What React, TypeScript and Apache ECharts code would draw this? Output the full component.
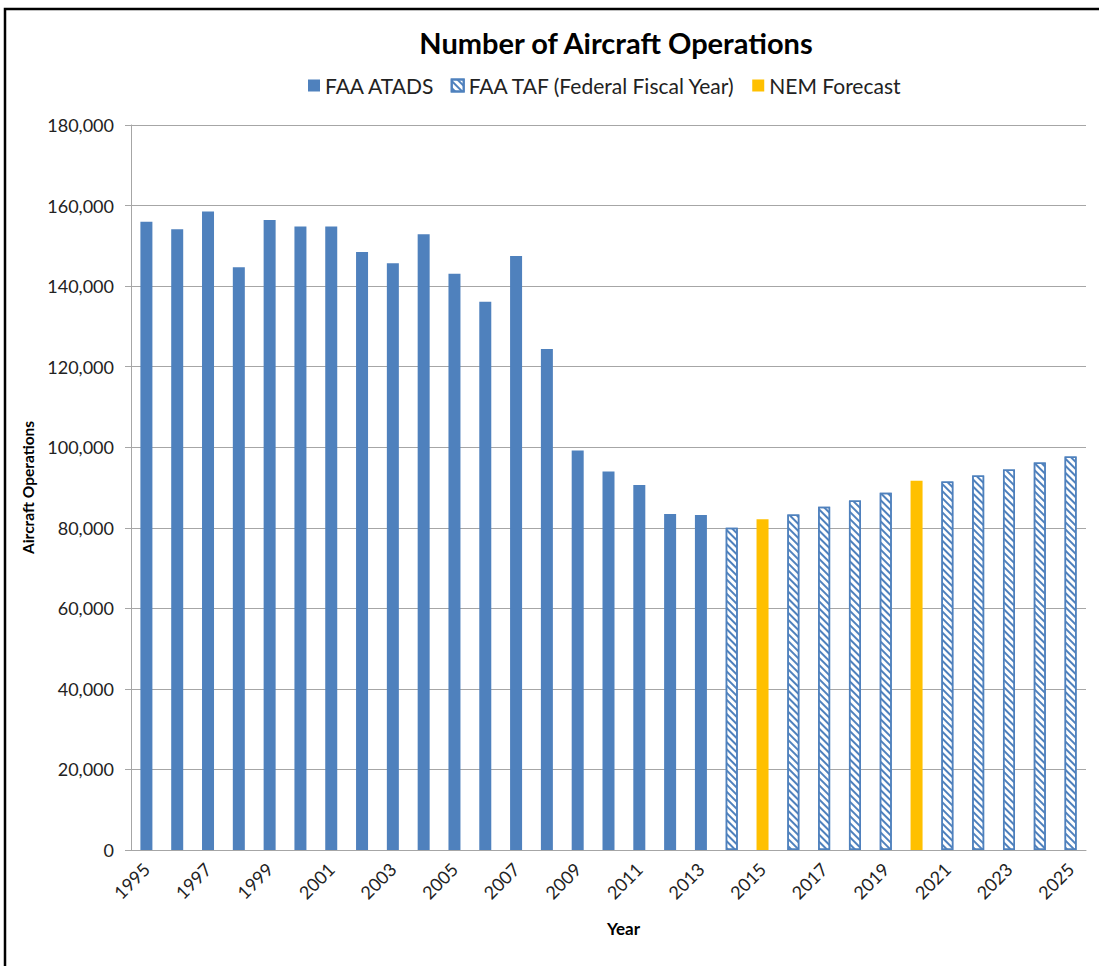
import React, { useEffect, useRef } from "react";
import * as echarts from "echarts";

const years: string[] = [
  "1995","1996","1997","1998","1999","2000","2001","2002","2003","2004",
  "2005","2006","2007","2008","2009","2010","2011","2012","2013","2014",
  "2015","2016","2017","2018","2019","2020","2021","2022","2023","2024","2025",
];

const faaAtads: (number | null)[] = [
  156000, 154100, 158500, 144700, 156400, 154800, 154800, 148500, 145700, 152900,
  143100, 136100, 147500, 124400, 99200, 94000, 90600, 83400, 83200, null,
  null, null, null, null, null, null, null, null, null, null, null,
];

const faaTaf: (number | null)[] = [
  null, null, null, null, null, null, null, null, null, null,
  null, null, null, null, null, null, null, null, null, 80000,
  null, 83300, 85200, 86800, 88700, null, 91500, 93000, 94500, 96200, 97700,
];

const nemForecast: (number | null)[] = [
  null, null, null, null, null, null, null, null, null, null,
  null, null, null, null, null, null, null, null, null, null,
  82100, null, null, null, null, 91700, null, null, null, null, null,
];

const yTicks = { min: 0, max: 180000, interval: 20000 };

const FONT = "Lato, 'Open Sans', sans-serif";
const BLUE = "#4f81bd";
const GOLD = "#ffc000";

export default function App() {
  const ref = useRef<HTMLDivElement>(null);
  useEffect(() => {
    if (!ref.current) return;
    const chart = echarts.init(ref.current, undefined, { renderer: "svg" });
    const hatch = {
      symbol: "rect",
      symbolSize: 1,
      dashArrayX: [1, 0],
      dashArrayY: [2, 2.6],
      rotation: Math.PI / 4,
      color: BLUE,
    };
    chart.setOption({
      animation: false,
      backgroundColor: "#ffffff",
      textStyle: { fontFamily: FONT },
      title: {
        text: "Number of Aircraft Operations",
        left: 611,
        textAlign: "center",
        top: 23,
        textStyle: { fontFamily: FONT, fontSize: 29, fontWeight: "bold", color: "#000" },
      },
      legend: {
        top: 75,
        left: 308,
        padding: 0,
        icon: "rect",
        itemWidth: 12,
        itemHeight: 12,
        itemGap: 16,
        textStyle: { fontFamily: FONT, fontSize: 21, color: "#222" },
        data: ["FAA ATADS", "FAA TAF (Federal Fiscal Year)", "NEM Forecast"],
      },
      graphic: [
        {
          type: "rect",
          shape: { x: 5, y: 9, width: 1200, height: 1200 },
          style: { fill: "none", stroke: "#000", lineWidth: 2.5 },
          silent: true,
        },
      ],
      grid: { left: 131, right: 13, top: 125, bottom: 116 },
      xAxis: {
        type: "category",
        data: years,
        name: "Year",
        nameLocation: "middle",
        nameGap: 70,
        nameTextStyle: {
          fontFamily: FONT,
          fontSize: 17,
          fontWeight: "bold",
          color: "#000",
          padding: [0, 0, 0, 30],
        },
        axisLine: { lineStyle: { color: "#a6a6a6" } },
        axisTick: { interval: 0, length: 6, lineStyle: { color: "#a6a6a6" } },
        axisLabel: {
          interval: 1,
          rotate: 45,
          fontSize: 18,
          color: "#222",
          margin: 16,
        },
      },
      yAxis: {
        type: "value",
        min: yTicks.min,
        max: yTicks.max,
        interval: yTicks.interval,
        name: "Aircraft Operations",
        nameLocation: "middle",
        nameGap: 93,
        nameTextStyle: { fontFamily: FONT, fontSize: 15.5, fontWeight: "bold", color: "#000" },
        axisLine: { show: true, lineStyle: { color: "#a6a6a6" } },
        axisTick: { show: true, length: 6, lineStyle: { color: "#a6a6a6" } },
        axisLabel: {
          fontSize: 18,
          color: "#222",
          margin: 17,
          formatter: (v: number) => v.toLocaleString("en-US"),
        },
        splitLine: { lineStyle: { color: "#a6a6a6" } },
      },
      series: [
        {
          name: "FAA ATADS",
          type: "bar",
          data: faaAtads,
          barWidth: 12,
          barGap: "-100%",
          itemStyle: { color: BLUE },
        },
        {
          name: "FAA TAF (Federal Fiscal Year)",
          type: "bar",
          data: faaTaf,
          barWidth: 12,
          barGap: "-100%",
          itemStyle: { color: "#ffffff", borderColor: BLUE, borderWidth: 1.5, decal: hatch },
        },
        {
          name: "NEM Forecast",
          type: "bar",
          data: nemForecast,
          barWidth: 12,
          barGap: "-100%",
          itemStyle: { color: GOLD },
        },
      ],
    });
    return () => chart.dispose();
  }, []);
  return (
    <div
      ref={ref}
      style={{ position: "fixed", left: 0, top: 0, width: 1099, height: 966 }}
    />
  );
}
